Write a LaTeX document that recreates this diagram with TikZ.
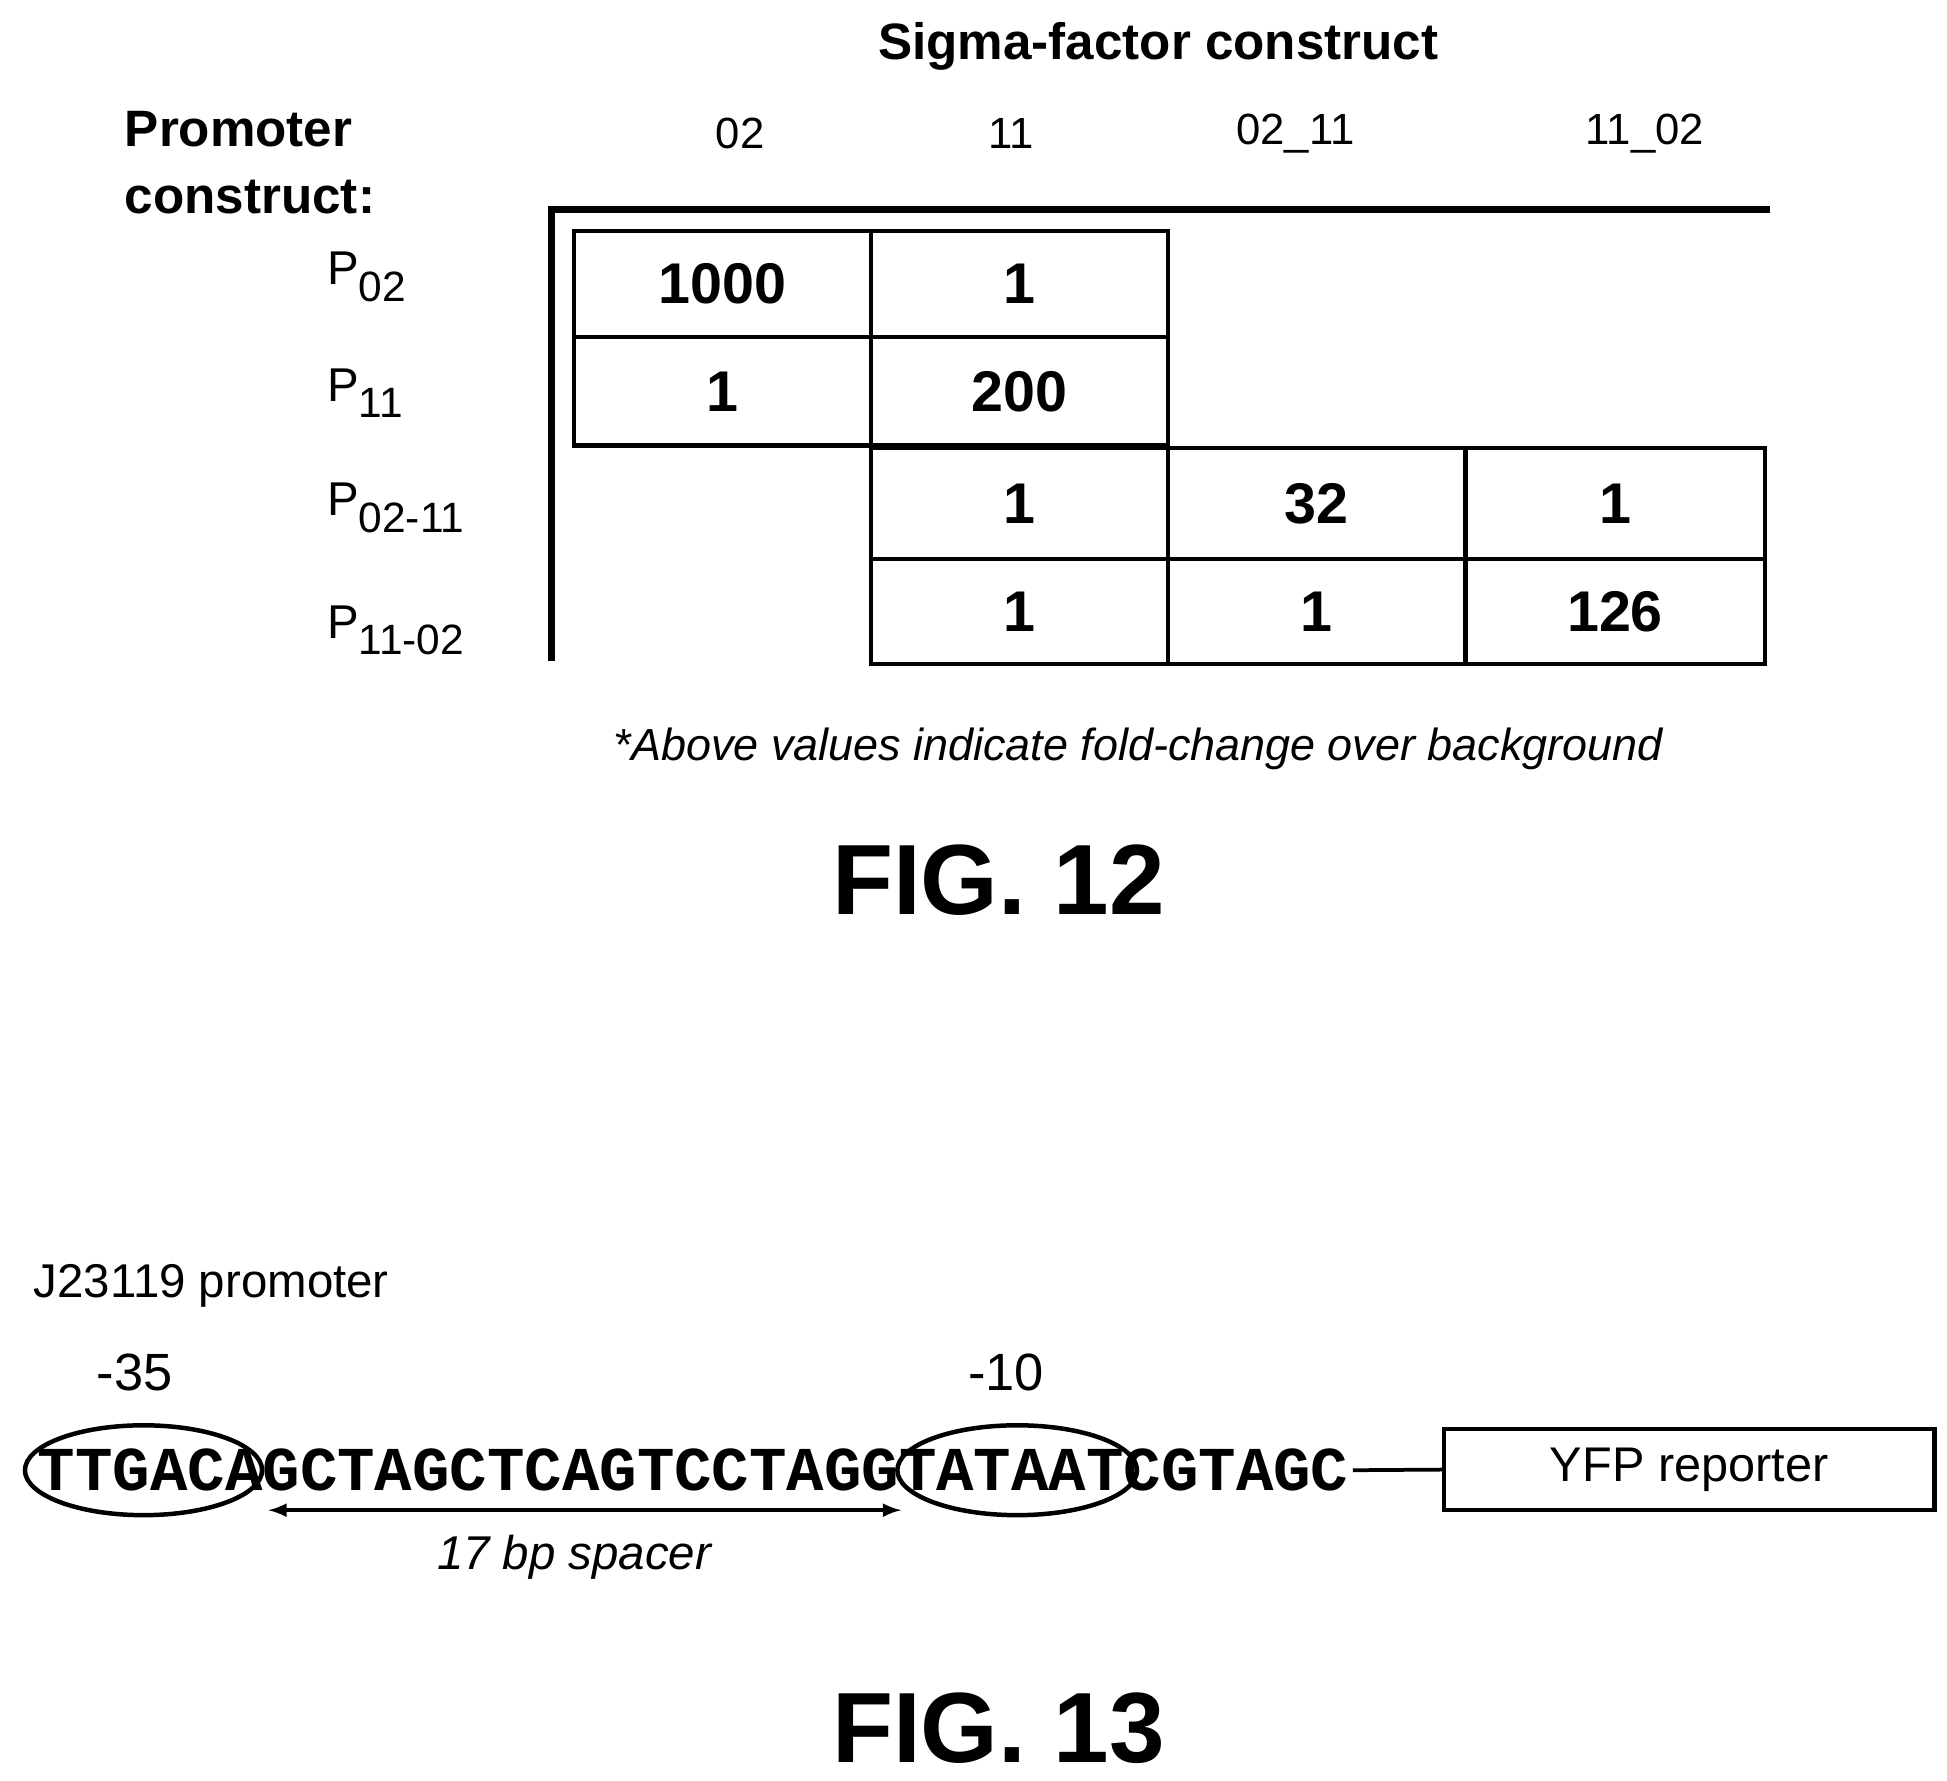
\documentclass[tikz,border=0pt]{standalone}
\usepackage{fontspec}
\setmainfont{Liberation Sans}
\newfontfamily\seqfont{Liberation Mono}
\usetikzlibrary{positioning,shapes.geometric}
\newcommand{\psub}[1]{\raisebox{-0.35em}{\fontsize{17}{19}\selectfont #1}}
\tikzset{
  cell/.style={draw,line width=1.8pt,minimum width=119pt,inner sep=0pt,font=\fontsize{23}{26}\selectfont\bfseries},
  head/.style={font=\fontsize{17.5}{20}\selectfont},
  plab/.style={anchor=west,font=\fontsize{19}{21}\selectfont},
  fig/.style={font=\fontsize{40}{44}\selectfont\bfseries},
}
\begin{document}
\begin{tikzpicture}[x=0.5pt,y=-0.5pt]
    \useasboundingbox (0,0) rectangle (1560,1427);
    % FIG. 12
    \node[font=\fontsize{20.5}{23}\selectfont\bfseries] (sigma) at (928,37) {Sigma-factor construct};
    \node[anchor=north west,align=left,font=\fontsize{20.5}{27}\selectfont\bfseries] (prom) at (93,82) {Promoter\\construct:};
    \node[head] (h02) at (593,107) {02};
    \node[head] (h11) at (810,107) {11};
    \node[head] (h0211) at (1038,107) {02\_11};
    \node[head] (h1102) at (1318,107) {11\_02};
    \draw[line width=3pt] (442,530) -- (442,168) -- (1418,168);
    % cells
    \node[cell,minimum height=42.5pt] (c11) at (579,227.5) {1000};
    \node[cell,minimum height=42.5pt] (c12) at (817,227.5) {1};
    \node[cell,minimum height=43.5pt] (c21) at (579,313.5) {1};
    \node[cell,minimum height=43.5pt] (c22) at (817,313.5) {200};
    \node[cell,minimum height=44.5pt] (c32) at (817,403.5) {1};
    \node[cell,minimum height=44.5pt] (c33) at (1055,403.5) {32};
    \node[cell,minimum height=44.5pt,minimum width=120pt] (c34) at (1294,403.5) {1};
    \node[cell,minimum height=42pt] (c42) at (817,490) {1};
    \node[cell,minimum height=42pt] (c43) at (1055,490) {1};
    \node[cell,minimum height=42pt,minimum width=120pt] (c44) at (1294,490) {126};
    \node[plab] (p02) at (255,222) {P\psub{02}};
    \node[plab] (p11) at (255,315) {P\psub{11}};
    \node[plab] (p0211) at (255,407) {P\psub{02-11}};
    \node[plab] (p1102) at (255,505) {P\psub{11-02}};
    \node[font=\fontsize{18}{20}\selectfont\itshape] (note) at (912,600) {*Above values indicate fold-change over background};
    \node[fig] (fig12) at (800,705) {FIG. 12};
    % FIG. 13
    \node[anchor=west,font=\fontsize{19}{21}\selectfont] (j23) at (20,1030) {J23119 promoter};
    \node[font=\fontsize{21}{24}\selectfont] (m35) at (108,1100) {-35};
    \node[font=\fontsize{21}{24}\selectfont] (m10) at (806,1100) {-10};
    \node[anchor=west,inner sep=0pt,font=\fontsize{25}{27}\seqfont\bfseries] (seq) at (30,1178) {TTGACAGCTAGCTCAGTCCTAGGTATAATCGTAGC};
    \node[ellipse,draw,line width=1.8pt,minimum width=95pt,minimum height=36pt] (e35) at (115,1178) {};
    \node[ellipse,draw,line width=1.8pt,minimum width=96pt,minimum height=36pt] (e10) at (815,1178) {};
    \coordinate (sp1) at (215,1210);
    \coordinate (sp2) at (722,1210);
    \draw[line width=1.5pt,<->,>=latex] (sp1) -- (sp2);
    \node[font=\fontsize{19}{22}\selectfont\itshape] (spacer) at (460,1248) {17 bp spacer};
    \node[draw,line width=1.8pt,minimum width=196.5pt,minimum height=32.5pt,font=\fontsize{19.5}{22}\selectfont] (yfp) at (1353.5,1177.5) {YFP reporter};
    \draw[line width=1.5pt] (seq.east) ++(3,0) -- (yfp.west);
    \node[fig] (fig13) at (800,1385) {FIG. 13};
\end{tikzpicture}
\end{document}
